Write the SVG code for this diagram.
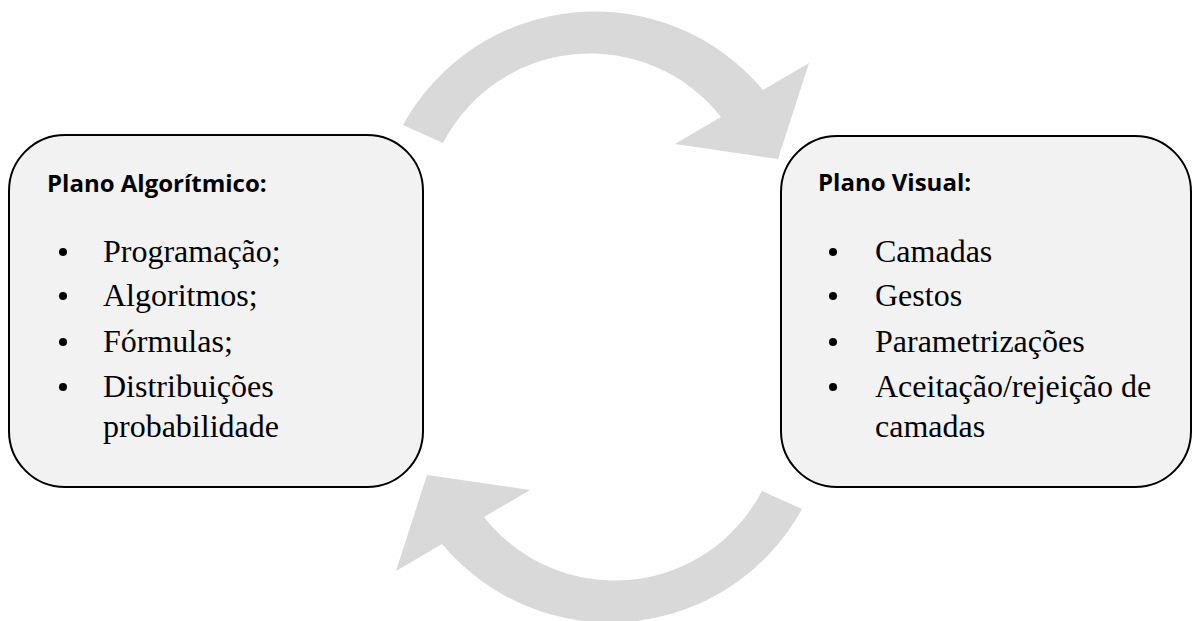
<svg xmlns="http://www.w3.org/2000/svg" width="1192" height="621" viewBox="0 0 1192 621">
<style>
.box{fill:#F2F2F2;stroke:#000;stroke-width:2}
.arrow{fill:#D9D9D9;stroke:none}
.h{font-family:"Open Sans","Liberation Sans",sans-serif;font-weight:bold;font-size:24px;fill:#000}
.t{font-family:"Liberation Serif","Times New Roman",serif;font-size:32px;fill:#000}
.b{fill:#000}
</style>
<defs>
<path id="carrow" d="M403,125 A219,219 0 0 1 763,90 L809,63 L778,159 L675,144 L721,117 A166,166 0 0 0 443,143 Z"/>
</defs>
<rect width="1192" height="621" fill="#fff"/>
<g id="connectors">
<use href="#carrow" class="arrow"/>
<use href="#carrow" class="arrow" transform="rotate(180 602.5 317)"/>
</g>
<g id="plano-algoritmico">
<rect class="box" x="9" y="135" width="414" height="352" rx="56" ry="56"/>
<text class="h" x="47" y="192">Plano Algorítmico:</text>
<circle class="b" cx="63" cy="252" r="4"/>
<circle class="b" cx="63" cy="296" r="4"/>
<circle class="b" cx="63" cy="342" r="4"/>
<circle class="b" cx="63" cy="387" r="4"/>
<text class="t" x="103" y="262">Programação;</text>
<text class="t" x="103" y="306">Algoritmos;</text>
<text class="t" x="103" y="352">Fórmulas;</text>
<text class="t" x="103" y="397">Distribuições</text>
<text class="t" x="103" y="437">probabilidade</text>
</g>
<g id="plano-visual">
<rect class="box" x="781" y="136" width="410" height="351" rx="56" ry="56"/>
<text class="h" x="818" y="191">Plano Visual:</text>
<circle class="b" cx="833" cy="252" r="4"/>
<circle class="b" cx="833" cy="296" r="4"/>
<circle class="b" cx="833" cy="342" r="4"/>
<circle class="b" cx="833" cy="387" r="4"/>
<text class="t" x="875" y="262">Camadas</text>
<text class="t" x="875" y="306">Gestos</text>
<text class="t" x="875" y="352">Parametrizações</text>
<text class="t" x="875" y="397">Aceitação/rejeição de</text>
<text class="t" x="875" y="437">camadas</text>
</g>
</svg>
